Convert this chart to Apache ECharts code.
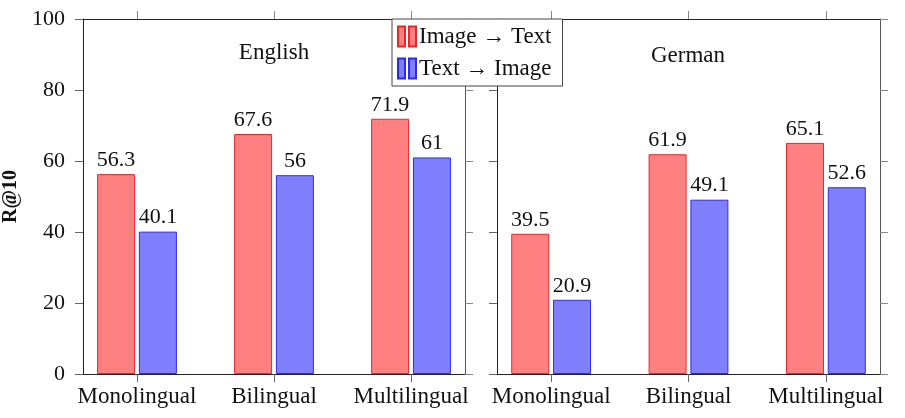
<!DOCTYPE html>
<html>
<head>
<meta charset="utf-8">
<script src="https://cdn.jsdelivr.net/npm/echarts@6/dist/echarts.min.js"></script>
<style>
  html, body { margin: 0; padding: 0; background: #fff; }
  #chart { width: 905px; height: 418px; }
</style>
</head>
<body>
<div id="chart"></div>
<script>
// data
const categories = ['Monolingual', 'Bilingual', 'Multilingual']
const panels = ['English', 'German']
const englishImgToText = [56.3, 67.6, 71.9]
const englishTextToImg = [40.1, 56, 61]
const germanImgToText = [39.5, 61.9, 65.1]
const germanTextToImg = [20.9, 49.1, 52.6]

const serif = 'Liberation Serif'
const redFill = '#ff8080'
const redLine = '#e8262a'
const blueFill = '#8080ff'
const blueLine = '#2b2bee'
const catIdx = categories.map((c, i) => i)

const chart = echarts.init(document.getElementById('chart'))

const grids = [
  { left: 83, top: 19, width: 382, height: 355 },
  { left: 497, top: 19, width: 383, height: 355 }
]

const txt = size => ({ t: { fontFamily: serif, fontSize: size, color: '#111' } })

const xAxes = []
const yAxes = []
grids.forEach((g, gi) => {
  // bottom axis with labels
  xAxes.push({
    type: 'value', gridIndex: gi, position: 'bottom',
    min: -0.394, max: 2.394,
    splitLine: { show: false },
    axisLine: { show: true, onZero: false, lineStyle: { color: '#222', width: 1 } },
    axisTick: { show: true, customValues: catIdx, length: 8, lineStyle: { color: '#666' } },
    axisLabel: {
      show: true, customValues: catIdx, margin: 11,
      formatter: v => '{t|' + (categories[Math.round(v)] || '') + '}',
      fontFamily: serif, fontSize: 23, color: '#111',
      rich: txt(23)
    }
  })
  // top axis, ticks only
  xAxes.push({
    type: 'value', gridIndex: gi, position: 'top',
    min: -0.394, max: 2.394,
    splitLine: { show: false },
    axisLine: { show: true, onZero: false, lineStyle: { color: '#222', width: 1 } },
    axisTick: { show: true, customValues: catIdx, length: 8, lineStyle: { color: '#888' } },
    axisLabel: { show: false }
  })
  yAxes.push({
    type: 'value', gridIndex: gi, position: 'left',
    min: 0, max: 100, interval: 20,
    name: gi === 0 ? 'R@10' : '',
    nameLocation: 'middle', nameGap: 62,
    nameTextStyle: { fontFamily: serif, fontSize: 20, fontWeight: 'bold', color: '#111' },
    splitLine: { show: false },
    axisLine: { show: true, onZero: false, lineStyle: { color: '#222', width: 1 } },
    axisTick: { show: true, length: 8, lineStyle: { color: '#666' } },
    axisLabel: {
      show: gi === 0, margin: 18,
      formatter: v => '{t|' + v + '}',
      fontFamily: serif, fontSize: 22, color: '#111',
      rich: txt(22)
    }
  })
  yAxes.push({
    type: 'value', gridIndex: gi, position: 'right',
    min: 0, max: 100, interval: 20,
    splitLine: { show: false },
    axisLine: { show: true, onZero: false, lineStyle: { color: '#555', width: 1 } },
    axisTick: { show: true, length: 8, lineStyle: { color: '#888' } },
    axisLabel: { show: false }
  })
})

function barSeries (name, values, gi, fill, line) {
  return {
    name: name,
    type: 'bar',
    xAxisIndex: gi * 2,
    yAxisIndex: gi * 2,
    barWidth: 38,
    barGap: '10%',
    data: values.map((v, i) => [i, v]),
    itemStyle: { color: fill, borderColor: line, borderWidth: 1 },
    label: {
      show: true, position: 'top', distance: 3,
      formatter: p => '{t|' + p.value[1] + '}',
      fontFamily: serif, fontSize: 22, color: '#111',
      rich: txt(22)
    },
    emphasis: { disabled: true }
  }
}

const legendIcon = 'path://M0,0h7v20h-7z M11,0h7v20h-7z'

chart.setOption({
  animation: false,
  backgroundColor: '#fff',
  textStyle: { fontFamily: serif },
  title: [
    { text: panels[0], left: 269, top: 36, textAlign: 'center',
      textStyle: { fontFamily: serif, fontSize: 23, fontWeight: 'normal', color: '#111' } },
    { text: panels[1], left: 683, top: 39, textAlign: 'center',
      textStyle: { fontFamily: serif, fontSize: 23, fontWeight: 'normal', color: '#111' } }
  ],
  legend: {
    orient: 'vertical',
    left: 392, top: 19,
    padding: [6, 11, 6, 5],
    itemGap: 9,
    itemWidth: 18, itemHeight: 20,
    backgroundColor: '#fff',
    borderColor: '#444', borderWidth: 1,
    textStyle: { fontFamily: serif, fontSize: 23, color: '#111', padding: [0, 0, 0, -2] },
    data: [
      { name: 'Image → Text', icon: legendIcon },
      { name: 'Text → Image', icon: legendIcon }
    ]
  },
  grid: grids,
  xAxis: xAxes,
  yAxis: yAxes,
  series: [
    barSeries('Image → Text', englishImgToText, 0, redFill, redLine),
    barSeries('Text → Image', englishTextToImg, 0, blueFill, blueLine),
    barSeries('Image → Text', germanImgToText, 1, redFill, redLine),
    barSeries('Text → Image', germanTextToImg, 1, blueFill, blueLine)
  ]
})
</script>
</body>
</html>
